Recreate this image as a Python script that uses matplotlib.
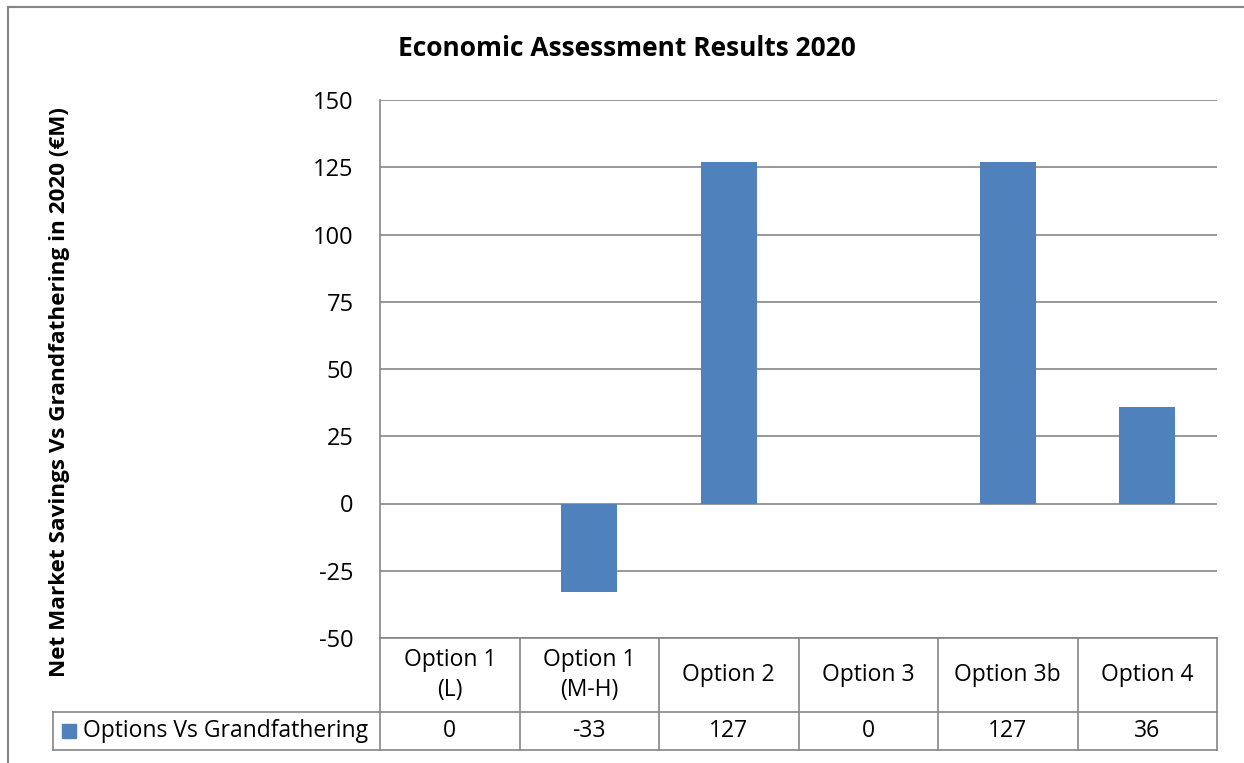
import matplotlib.pyplot as plt
import matplotlib.transforms as mtransforms
from matplotlib.patches import Rectangle

# Categories and values of the single series
categories = ["Option 1\n(L)", "Option 1\n(M-H)", "Option 2", "Option 3", "Option 3b", "Option 4"]
values = [0, -33, 127, 0, 127, 36]
series_name = "Options Vs Grandfathering"
yticks = [-50, -25, 0, 25, 50, 75, 100, 125, 150]

BAR = "#4F81BD"
GRID = "#868686"
FONT = "Open Sans"
FS = 16.5

W, H = 1244, 763
fig = plt.figure(figsize=(W / 100, H / 100), dpi=100)


def fx(px):
    return px / W


def fy(py):
    return 1 - py / H


# plot area
ax = fig.add_axes([fx(380), fy(638), fx(1217) - fx(380), fy(100) - fy(638)])
x = list(range(len(categories)))
ax.bar(x, values, width=0.4, color=BAR, zorder=3)
ax.set_xlim(-0.5, len(categories) - 0.5)
ax.set_ylim(-50, 150)
ax.set_yticks(yticks)
ax.set_yticklabels([str(t) for t in yticks], fontsize=17, family=FONT)
ax.tick_params(axis="y", length=0, pad=19)
ax.set_xticks([])
ax.grid(axis="y", color=GRID, linewidth=1.2, zorder=0)
for side in ["top", "right", "bottom"]:
    ax.spines[side].set_visible(False)
ax.spines["left"].set_color(GRID)
ax.spines["left"].set_linewidth(1.2)

# title and axis label
fig.text(fx(627), fy(48), "Economic Assessment Results 2020", ha="center", va="center",
         fontsize=19, fontweight="bold", family=FONT)
fig.text(fx(60), fy(392), "Net Market Savings Vs Grandfathering in 2020 (€M)", ha="center",
         va="center", rotation=90, fontsize=16.2, fontweight="bold", family=FONT)

# data table under the plot area
trans = mtransforms.blended_transform_factory(ax.transData, fig.transFigure)
row_top, row_mid, row_bot = fy(638), fy(712), fy(750)
line_kw = dict(color=GRID, linewidth=1.2, clip_on=False)
for i in range(len(categories) + 1):
    ax.plot([i - 0.5, i - 0.5], [row_top, row_bot], transform=trans, **line_kw)
ax.plot([-0.5, len(categories) - 0.5], [row_top, row_top], transform=trans, **line_kw)
ax.plot([-0.5, len(categories) - 0.5], [row_bot, row_bot], transform=trans, **line_kw)
for i, (cat, val) in enumerate(zip(categories, values)):
    ax.text(i, (row_top + row_mid) / 2, cat, transform=trans, ha="center", va="center",
            fontsize=FS, family=FONT, linespacing=1.3)
    ax.text(i, (row_mid + row_bot) / 2, str(val), transform=trans, ha="center", va="center",
            fontsize=FS, family=FONT)

# legend key cell, left of the value row
fig.add_artist(plt.Line2D([fx(53), fx(1217)], [row_mid, row_mid], color=GRID, linewidth=1.2))
fig.add_artist(plt.Line2D([fx(53), fx(380)], [row_bot, row_bot], color=GRID, linewidth=1.2))
fig.add_artist(plt.Line2D([fx(53), fx(53)], [row_mid, row_bot], color=GRID, linewidth=1.2))
fig.add_artist(Rectangle((fx(62), fy(738)), fx(14), fy(724) - fy(738), color=BAR,
                         transform=fig.transFigure))
fig.text(fx(83), (row_mid + row_bot) / 2, series_name, ha="left", va="center",
         fontsize=FS, family=FONT)

# chart frame
fig.add_artist(plt.Line2D([fx(8), fx(1244)], [fy(7), fy(7)], color=GRID, linewidth=1.5))
fig.add_artist(plt.Line2D([fx(8), fx(8)], [fy(7), 0], color=GRID, linewidth=1.5))

fig.savefig("out.png", dpi=100)
